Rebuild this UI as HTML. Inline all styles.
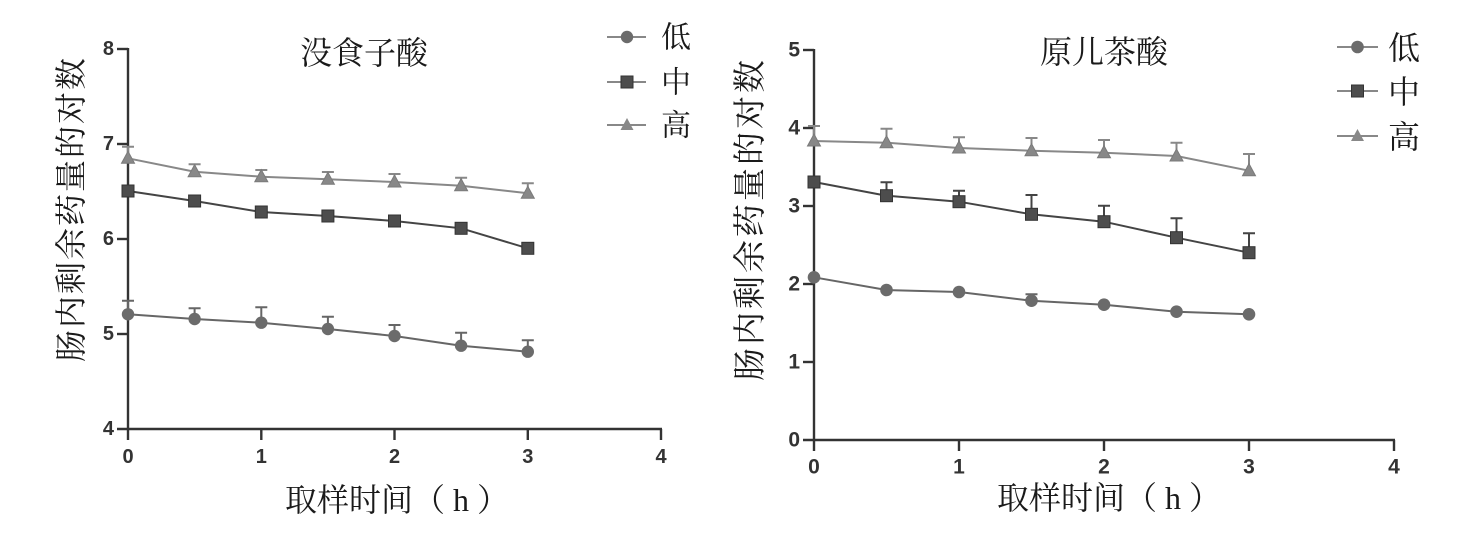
<!DOCTYPE html>
<html>
<head>
<meta charset="utf-8">
<style>
  html, body { margin:0; padding:0; background:#fff; }
  body { width:1470px; height:555px; overflow:hidden; }
  svg { display:block; }
  .cjk { font-family: "Liberation Serif", "Noto Serif CJK SC", "Noto Sans CJK SC", serif; fill:#1a1a1a; }
  .tick { font-family: "Liberation Sans", Arial, sans-serif; font-weight:bold; fill:#333; }
</style>
</head>
<body>
<svg width="1470" height="555" viewBox="0 0 1470 555" xmlns="http://www.w3.org/2000/svg">
  <rect width="1470" height="555" fill="#fff"/>

  <!-- ================= LEFT CHART ================= -->
  <g stroke="#333" stroke-width="2.4" fill="none">
    <line x1="128" y1="48" x2="128" y2="440"/>
    <line x1="117" y1="429" x2="662" y2="429"/>
    <line x1="117" y1="49" x2="128" y2="49"/>
    <line x1="117" y1="144" x2="128" y2="144"/>
    <line x1="117" y1="239" x2="128" y2="239"/>
    <line x1="117" y1="334" x2="128" y2="334"/>
    <line x1="261.3" y1="429" x2="261.3" y2="440"/>
    <line x1="394.5" y1="429" x2="394.5" y2="440"/>
    <line x1="527.8" y1="429" x2="527.8" y2="440"/>
    <line x1="661" y1="429" x2="661" y2="440"/>
  </g>
  <g class="tick" font-size="20" text-anchor="end" dominant-baseline="central">
    <text x="114" y="49">8</text>
    <text x="114" y="144">7</text>
    <text x="114" y="239">6</text>
    <text x="114" y="334">5</text>
    <text x="114" y="429">4</text>
  </g>
  <g class="tick" font-size="20" text-anchor="middle" dominant-baseline="central">
    <text x="128" y="457">0</text>
    <text x="261.3" y="457">1</text>
    <text x="394.5" y="457">2</text>
    <text x="527.8" y="457">3</text>
    <text x="661" y="457">4</text>
  </g>

  <text class="cjk" x="364" y="53" font-size="32" text-anchor="middle" dominant-baseline="central">没食子酸</text>
  <text class="cjk" x="285" y="500" font-size="32" dominant-baseline="central" xml:space="preserve">取样时间（ h ）</text>
  <text class="cjk" transform="translate(71,209) rotate(-90)" font-size="32" letter-spacing="2" text-anchor="middle" dominant-baseline="central">肠内剩余药量的对数</text>

  <!-- HIGH series (triangle) -->
  <g stroke="#888" stroke-width="2" fill="none">
    <polyline points="128,158.3 194.6,171.7 261.3,176.7 327.9,179.3 394.5,182 461.1,185.7 527.8,193.3"/>
    <path d="M128,158.3V146.7M122,146.7H134
             M194.6,171.7V164.3M188.6,164.3H200.6
             M261.3,176.7V170M255.3,170H267.3
             M327.9,179.3V172M321.9,172H333.9
             M394.5,182V174M388.5,174H400.5
             M461.1,185.7V177.7M455.1,177.7H467.1
             M527.8,193.3V183.3M521.8,183.3H533.8"/>
  </g>
  <g fill="#888" stroke="#7a7a7a" stroke-width="1">
    <polygon points="121.5,163.3 134.5,163.3 128,151.3"/>
    <polygon points="188.1,176.7 201.1,176.7 194.6,164.7"/>
    <polygon points="254.8,181.7 267.8,181.7 261.3,169.7"/>
    <polygon points="321.4,184.3 334.4,184.3 327.9,172.3"/>
    <polygon points="388,187 401,187 394.5,175"/>
    <polygon points="454.6,190.7 467.6,190.7 461.1,178.7"/>
    <polygon points="521.3,198.3 534.3,198.3 527.8,186.3"/>
  </g>

  <!-- MID series (square) -->
  <polyline points="128,191 194.6,201 261.3,212 327.9,216 394.5,221 461.1,228.3 527.8,248.3" stroke="#444" stroke-width="2" fill="none"/>
  <g fill="#4d4d4d" stroke="#333" stroke-width="1">
    <rect x="122" y="185" width="12" height="12"/>
    <rect x="188.6" y="195" width="12" height="12"/>
    <rect x="255.3" y="206" width="12" height="12"/>
    <rect x="321.9" y="210" width="12" height="12"/>
    <rect x="388.5" y="215" width="12" height="12"/>
    <rect x="455.1" y="222.3" width="12" height="12"/>
    <rect x="521.8" y="242.3" width="12" height="12"/>
  </g>

  <!-- LOW series (circle) -->
  <g stroke="#666" stroke-width="2" fill="none">
    <polyline points="128,314.3 194.6,319 261.3,322.7 327.9,329 394.5,336 461.1,345.7 527.8,351.7"/>
    <path d="M128,314.3V300.7M122,300.7H134
             M194.6,319V308.3M188.6,308.3H200.6
             M261.3,322.7V307.3M255.3,307.3H267.3
             M327.9,329V316.7M321.9,316.7H333.9
             M394.5,336V325M388.5,325H400.5
             M461.1,345.7V332.7M455.1,332.7H467.1
             M527.8,351.7V340.3M521.8,340.3H533.8"/>
  </g>
  <g fill="#6b6b6b">
    <circle cx="128" cy="314.3" r="6.2"/>
    <circle cx="194.6" cy="319" r="6.2"/>
    <circle cx="261.3" cy="322.7" r="6.2"/>
    <circle cx="327.9" cy="329" r="6.2"/>
    <circle cx="394.5" cy="336" r="6.2"/>
    <circle cx="461.1" cy="345.7" r="6.2"/>
    <circle cx="527.8" cy="351.7" r="6.2"/>
  </g>

  <!-- LEFT legend -->
  <g stroke="#888" stroke-width="2">
    <line x1="607" y1="37" x2="646" y2="37"/>
    <line x1="607" y1="82" x2="646" y2="82"/>
    <line x1="607" y1="125" x2="646" y2="125"/>
  </g>
  <circle cx="627" cy="37" r="6.2" fill="#6b6b6b"/>
  <rect x="621" y="76" width="12" height="12" fill="#4d4d4d" stroke="#333" stroke-width="1"/>
  <polygon points="620.5,130 633.5,130 627,118" fill="#888"/>
  <g class="cjk" font-size="30" dominant-baseline="central">
    <text x="661" y="38">低</text>
    <text x="661" y="83">中</text>
    <text x="661" y="126">高</text>
  </g>

  <!-- ================= RIGHT CHART ================= -->
  <g stroke="#333" stroke-width="2.4" fill="none">
    <line x1="814" y1="49" x2="814" y2="451"/>
    <line x1="803" y1="440" x2="1395" y2="440"/>
    <line x1="803" y1="50" x2="814" y2="50"/>
    <line x1="803" y1="128" x2="814" y2="128"/>
    <line x1="803" y1="206" x2="814" y2="206"/>
    <line x1="803" y1="284" x2="814" y2="284"/>
    <line x1="803" y1="362" x2="814" y2="362"/>
    <line x1="959" y1="440" x2="959" y2="451"/>
    <line x1="1104" y1="440" x2="1104" y2="451"/>
    <line x1="1249" y1="440" x2="1249" y2="451"/>
    <line x1="1394" y1="440" x2="1394" y2="451"/>
  </g>
  <g class="tick" font-size="21" text-anchor="end" dominant-baseline="central">
    <text x="800" y="50">5</text>
    <text x="800" y="128">4</text>
    <text x="800" y="206">3</text>
    <text x="800" y="284">2</text>
    <text x="800" y="362">1</text>
    <text x="800" y="440">0</text>
  </g>
  <g class="tick" font-size="21" text-anchor="middle" dominant-baseline="central">
    <text x="814" y="467">0</text>
    <text x="959" y="467">1</text>
    <text x="1104" y="467">2</text>
    <text x="1249" y="467">3</text>
    <text x="1394" y="467">4</text>
  </g>

  <text class="cjk" x="1104" y="52" font-size="32" text-anchor="middle" dominant-baseline="central">原儿茶酸</text>
  <text class="cjk" x="997" y="498" font-size="32" dominant-baseline="central" xml:space="preserve">取样时间（ h ）</text>
  <text class="cjk" transform="translate(751,219) rotate(-90)" font-size="33" letter-spacing="3" text-anchor="middle" dominant-baseline="central">肠内剩余药量的对数</text>

  <!-- HIGH -->
  <g stroke="#888" stroke-width="2" fill="none">
    <polyline points="814,141 886.5,142.7 959,148 1031.5,150.7 1104,152.7 1176.5,156 1249,170.7"/>
    <path d="M814,141V126M808,126H820
             M886.5,142.7V128.7M880.5,128.7H892.5
             M959,148V137.3M953,137.3H965
             M1031.5,150.7V138M1025.5,138H1037.5
             M1104,152.7V140M1098,140H1110
             M1176.5,156V142.7M1170.5,142.7H1182.5
             M1249,170.7V154M1243,154H1255"/>
  </g>
  <g fill="#888" stroke="#7a7a7a" stroke-width="1">
    <polygon points="807.5,146 820.5,146 814,134"/>
    <polygon points="880,147.7 893,147.7 886.5,135.7"/>
    <polygon points="952.5,153 965.5,153 959,141"/>
    <polygon points="1025,155.7 1038,155.7 1031.5,143.7"/>
    <polygon points="1097.5,157.7 1110.5,157.7 1104,145.7"/>
    <polygon points="1170,161 1183,161 1176.5,149"/>
    <polygon points="1242.5,175.7 1255.5,175.7 1249,163.7"/>
  </g>

  <!-- MID -->
  <g stroke="#444" stroke-width="2" fill="none">
    <polyline points="814,182 886.5,195.7 959,201.7 1031.5,214.3 1104,221.7 1176.5,237.7 1249,252.7"/>
    <path d="M886.5,195.7V182.3M880.5,182.3H892.5
             M959,201.7V190.7M953,190.7H965
             M1031.5,214.3V195M1025.5,195H1037.5
             M1104,221.7V205.7M1098,205.7H1110
             M1176.5,237.7V218.3M1170.5,218.3H1182.5
             M1249,252.7V233.3M1243,233.3H1255"/>
  </g>
  <g fill="#4d4d4d" stroke="#333" stroke-width="1">
    <rect x="808" y="176" width="12" height="12"/>
    <rect x="880.5" y="189.7" width="12" height="12"/>
    <rect x="953" y="195.7" width="12" height="12"/>
    <rect x="1025.5" y="208.3" width="12" height="12"/>
    <rect x="1098" y="215.7" width="12" height="12"/>
    <rect x="1170.5" y="231.7" width="12" height="12"/>
    <rect x="1243" y="246.7" width="12" height="12"/>
  </g>

  <!-- LOW -->
  <g stroke="#666" stroke-width="2" fill="none">
    <polyline points="814,277.3 886.5,290 959,292 1031.5,300.7 1104,304.7 1176.5,311.7 1249,314.3"/>
    <path d="M1031.5,300.7V294.3M1025.5,294.3H1037.5"/>
  </g>
  <g fill="#6b6b6b">
    <circle cx="814" cy="277.3" r="6.3"/>
    <circle cx="886.5" cy="290" r="6.3"/>
    <circle cx="959" cy="292" r="6.3"/>
    <circle cx="1031.5" cy="300.7" r="6.3"/>
    <circle cx="1104" cy="304.7" r="6.3"/>
    <circle cx="1176.5" cy="311.7" r="6.3"/>
    <circle cx="1249" cy="314.3" r="6.3"/>
  </g>

  <!-- RIGHT legend -->
  <g stroke="#888" stroke-width="2">
    <line x1="1337" y1="47" x2="1378" y2="47"/>
    <line x1="1337" y1="91" x2="1378" y2="91"/>
    <line x1="1337" y1="136" x2="1378" y2="136"/>
  </g>
  <circle cx="1357.5" cy="47" r="6.3" fill="#6b6b6b"/>
  <rect x="1351.5" y="85" width="12" height="12" fill="#4d4d4d" stroke="#333" stroke-width="1"/>
  <polygon points="1351,141 1364,141 1357.5,129" fill="#888"/>
  <g class="cjk" font-size="32" dominant-baseline="central">
    <text x="1388" y="48">低</text>
    <text x="1388" y="92">中</text>
    <text x="1388" y="137">高</text>
  </g>
</svg>
</body>
</html>
